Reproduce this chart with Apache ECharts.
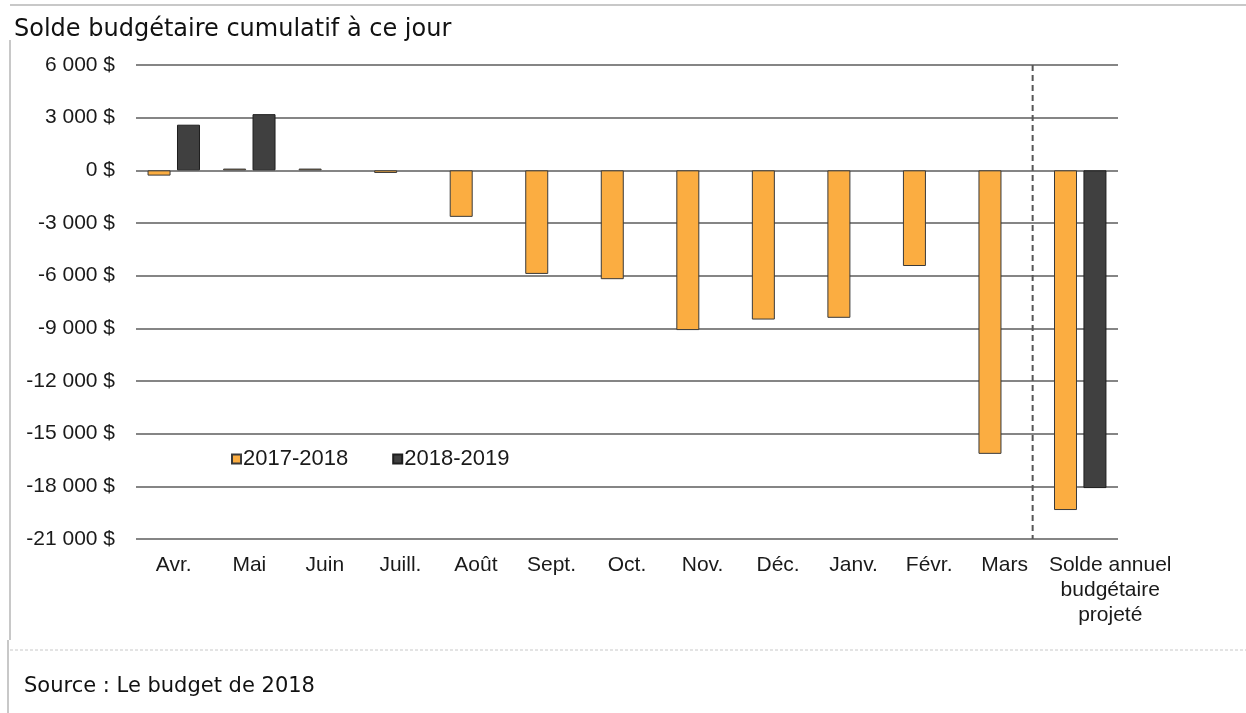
<!DOCTYPE html>
<html>
<head>
<meta charset="utf-8">
<title>Solde budgétaire cumulatif à ce jour</title>
<script src="https://cdn.jsdelivr.net/npm/echarts@6/dist/echarts.min.js"></script>
<style>
  html, body { margin: 0; padding: 0; background: #fff; }
  #chart { width: 1246px; height: 713px; }
</style>
</head>
<body>
<div id="chart"></div>
<script>
// Months of the fiscal year + the projected annual balance
const categories = ["Avr.", "Mai", "Juin", "Juill.", "Août", "Sept.", "Oct.", "Nov.", "Déc.", "Janv.", "Févr.", "Mars", "Solde annuel\nbudgétaire\nprojeté"];
const values2017 = [-300, 100, 100, -150, -2650, -5900, -6200, -9100, -8500, -8400, -5450, -16150, -19350];
const values2018 = [2600, 3200, null, null, null, null, null, null, null, null, null, null, -18100];
const yTicks = { min: -21000, max: 6000, step: 3000 };
// dashed separator, in category units counted from the left edge of the plot
const dividerAt = [[11.87, 6000], [11.87, -21000]];

const chart = echarts.init(document.getElementById("chart"));

const labelFont = "'Liberation Sans', Arial, sans-serif";

// "6 000 $" style labels
const money = (v) => {
  const s = Math.abs(v).toString().replace(/\B(?=(\d{3})+(?!\d))/g, " ");
  return (v < 0 ? "-" : "") + s + " $";
};

const option = {
  animation: false,
  title: {
    text: "Solde budgétaire cumulatif à ce jour",
    left: 9,
    top: 13,
    textStyle: {
      fontFamily: "'DejaVu Sans', Verdana, sans-serif",
      fontSize: 24,
      fontWeight: "normal",
      color: "#111",
    },
  },
  legend: {
    data: ["2017-2018", "2018-2019"],
    left: 226,
    top: 443,
    icon: "rect",
    itemWidth: 9,
    itemHeight: 9,
    itemGap: 44,
    selectedMode: false,
    textStyle: {
      fontFamily: labelFont,
      fontSize: 22,
      color: "#1a1a1a",
      padding: [0, 0, 0, -3],
    },
  },
  grid: { left: 136, right: 128, top: 65, bottom: 174 },
  xAxis: [
    {
      type: "category",
      data: categories,
      axisLine: { show: false },
      axisTick: { show: false },
      axisLabel: {
        interval: 0,
        margin: 14,
        fontFamily: labelFont,
        fontSize: 21,
        lineHeight: 25,
        color: "#1a1a1a",
        // the last label sits to the right of its bars
        formatter: (v, i) => (i === categories.length - 1 ? "{s|" + v.split("\n").join("}\n{s|") + "}" : v),
        rich: {
          s: { fontFamily: labelFont, fontSize: 21, lineHeight: 25, color: "#1a1a1a", padding: [0, 0, 0, 60] },
        },
      },
    },
    {
      // hidden helper axis for the dashed separator
      type: "value",
      min: 0,
      max: categories.length,
      show: false,
    },
  ],
  yAxis: {
    type: "value",
    min: yTicks.min,
    max: yTicks.max,
    interval: yTicks.step,
    axisLine: { show: false },
    axisTick: { show: false },
    axisLabel: {
      margin: 21,
      fontFamily: labelFont,
      fontSize: 21,
      color: "#1a1a1a",
      formatter: money,
    },
    splitLine: { lineStyle: { color: "#858585", width: 2 } },
  },
  series: [
    {
      name: "2017-2018",
      type: "bar",
      data: values2017,
      barWidth: 23,
      barGap: "28%",
      itemStyle: { color: "#FBAD41", borderColor: "#3a3a3a", borderWidth: 1 },
    },
    {
      name: "2018-2019",
      type: "bar",
      data: values2018,
      barWidth: 23,
      barGap: "28%",
      itemStyle: { color: "#404040", borderColor: "#1e1e1e", borderWidth: 1 },
    },
    {
      name: "separator",
      type: "line",
      xAxisIndex: 1,
      data: dividerAt,
      symbol: "none",
      silent: true,
      lineStyle: { color: "#555", width: 2, type: [6, 4] },
    },
  ],
  graphic: [
    // frame lines around the figure
    { type: "line", shape: { x1: 10, y1: 5, x2: 1246, y2: 5 }, style: { stroke: "#c8c8c8", lineWidth: 2 } },
    { type: "line", shape: { x1: 10, y1: 40, x2: 10, y2: 640 }, style: { stroke: "#c8c8c8", lineWidth: 2 } },
    { type: "line", shape: { x1: 10, y1: 650, x2: 1246, y2: 650 }, style: { stroke: "#c8c8c8", lineWidth: 1, lineDash: [3, 2] } },
    { type: "line", shape: { x1: 8, y1: 640, x2: 8, y2: 713 }, style: { stroke: "#c8c8c8", lineWidth: 2 } },
    {
      type: "text",
      left: 24,
      top: 676,
      style: {
        text: "Source : Le budget de 2018",
        font: "21px 'DejaVu Sans', Verdana, sans-serif",
        fill: "#111",
      },
    },
  ],
};

chart.setOption(option);
</script>
</body>
</html>
